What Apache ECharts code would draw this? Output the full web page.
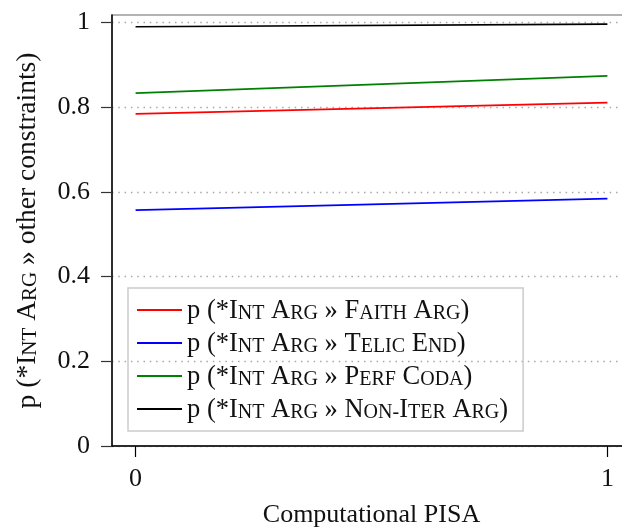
<!DOCTYPE html>
<html>
<head>
<meta charset="utf-8">
<script src="https://cdn.jsdelivr.net/npm/echarts@6/dist/echarts.min.js"></script>
<style>
  html, body { margin: 0; padding: 0; background: #fff; }
  #chart { width: 622px; height: 527px; }
</style>
</head>
<body>
<div id="chart"></div>
<script>
// Predicted constraint-ranking probabilities at the two ends of the PISA scale
const pisaValues = [0, 1];
const faithArg = [0.784, 0.811];
const telicEnd = [0.557, 0.584];
const perfCoda = [0.833, 0.874];
const nonIterArg = [0.990, 0.996];
const yTicks = [0, 0.2, 0.4, 0.6, 0.8, 1];
const xTicks = [0, 1];

const FONT = '"Liberation Serif", "DejaVu Serif", serif';

// Small-caps helper: first letter of each word part at full size, the rest as reduced capitals
function scPart(w) {
  return '{b|' + w.charAt(0) + '}{s|' + w.slice(1).toUpperCase() + '}';
}
function sc(text) {
  return text.split(' ').map(function (word) {
    return word.split('-').map(scPart).join('{s|-}');
  }).join('{b| }');
}
function label(target) {
  return '{b|p (*}' + sc('Int Arg') + '{b| » }' + sc(target) + '{b|)}';
}

const seriesDefs = [
  { key: 'faith', target: 'Faith Arg', color: '#ff0000', values: faithArg },
  { key: 'telic', target: 'Telic End', color: '#0000ff', values: telicEnd },
  { key: 'perf', target: 'Perf Coda', color: '#008000', values: perfCoda },
  { key: 'noniter', target: 'Non-Iter Arg', color: '#000000', values: nonIterArg }
];
const labelByKey = {};
seriesDefs.forEach(function (d) { labelByKey[d.key] = label(d.target); });

function richFor(size) {
  return {
    b: { fontSize: size, fontFamily: FONT, color: '#111', verticalAlign: 'bottom', lineHeight: 30 },
    s: { fontSize: Math.round(size * 0.75), fontFamily: FONT, color: '#111', verticalAlign: 'bottom', lineHeight: 30, padding: [0, 0, 1, 0] }
  };
}

const chart = echarts.init(document.getElementById('chart'), null, { renderer: 'canvas' });

chart.setOption({
  animation: false,
  backgroundColor: '#ffffff',
  grid: {
    left: 112, top: 15, right: -9, bottom: 81,
    outerBoundsMode: 'none',
    containLabel: false,
    show: true, borderColor: '#9a9a9a', borderWidth: 1.5
  },
  legend: {
    orient: 'vertical',
    left: 128, top: 288,
    padding: [7, 15, 7, 9],
    icon: 'rect',
    itemWidth: 45, itemHeight: 2, itemGap: 3,
    borderColor: '#cccccc', borderWidth: 1.5,
    formatter: function (name) { return labelByKey[name]; },
    textStyle: { fontSize: 26.5, fontFamily: FONT, color: '#111', lineHeight: 30, rich: richFor(26.5) },
    data: seriesDefs.map(function (d) { return d.key; })
  },
  xAxis: {
    type: 'value',
    min: -0.05, max: 1.05,
    name: 'Computational PISA',
    nameLocation: 'middle',
    nameGap: 56,
    nameTextStyle: { fontSize: 26, fontFamily: FONT, color: '#111' },
    axisLine: { onZero: false, lineStyle: { color: '#000', width: 1.5 } },
    axisTick: { length: 11, lineStyle: { color: '#000', width: 1.2 }, customValues: xTicks },
    axisLabel: { fontSize: 26, fontFamily: FONT, color: '#111', margin: 20, customValues: xTicks },
    splitLine: { show: false }
  },
  yAxis: {
    type: 'value',
    min: 0, max: 1.0177,
    name: '{b|p (*}' + sc('Int Arg') + '{b| » other constraints)}',
    nameLocation: 'middle',
    nameGap: 70,
    nameTextStyle: { fontSize: 27.5, fontFamily: FONT, color: '#111', rich: richFor(27.5) },
    axisLine: { show: true, onZero: false, lineStyle: { color: '#000', width: 1.5 } },
    axisTick: { show: true, length: 11, lineStyle: { color: '#333', width: 1.2 }, customValues: yTicks },
    axisLabel: { fontSize: 26, fontFamily: FONT, color: '#111', margin: 22, customValues: yTicks },
    splitLine: { show: true, lineStyle: { color: '#a8a8a8', width: 1.3, type: [1.5, 4.8] } }
  },
  series: seriesDefs.map(function (d) {
    return {
      name: d.key,
      type: 'line',
      symbol: 'none',
      color: d.color,
      lineStyle: { color: d.color, width: 1.7 },
      data: pisaValues.map(function (x, i) { return [x, d.values[i]]; })
    };
  })
});
</script>
</body>
</html>
